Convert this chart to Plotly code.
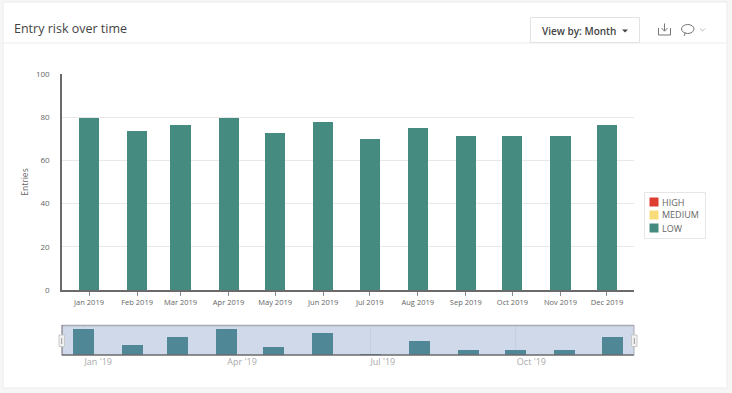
import plotly.graph_objects as go

W, H = 732, 393
FONT = "Open Sans"

months = ["2019-%02d-01" % m for m in range(1, 13)]
month_labels = ["Jan 2019", "Feb 2019", "Mar 2019", "Apr 2019", "May 2019", "Jun 2019",
                "Jul 2019", "Aug 2019", "Sep 2019", "Oct 2019", "Nov 2019", "Dec 2019"]
low = [79.5, 73.5, 76.5, 79.5, 72.5, 78, 70, 75, 71.5, 71.5, 71.5, 76.5]
medium = [0] * 12
high = [0] * 12
y_ticks = [0, 20, 40, 60, 80, 100]
nav_label_dates = ["2019-01-10", "2019-04-11", "2019-07-09", "2019-10-11"]
nav_labels = ["Jan '19", "Apr '19", "Jul '19", "Oct '19"]
nav_grid_dates = ["2019-01-01", "2019-04-01", "2019-07-01", "2019-10-01"]
legend_names = ["HIGH", "MEDIUM", "LOW"]
legend_colors = ["#de3d32", "#f8dc7a", "#458b80"]

BAR_DAYS_MAIN = 13.0 * 86400000
BAR_DAYS_NAV = 13.3 * 86400000


def fx(px):
    return px / W


def fy(py):
    return 1 - py / H


def P(*pts):
    out = []
    for cmd, x, y in pts:
        out.append("%s%.5f,%.5f" % (cmd, fx(x), fy(y)))
    return " ".join(out)


def rect(x0, y0, x1, y1, fill="rgba(0,0,0,0)", line="rgba(0,0,0,0)", width=1):
    return dict(type="rect", xref="paper", yref="paper", x0=fx(x0), x1=fx(x1), y0=fy(y0), y1=fy(y1),
                fillcolor=fill, line=dict(color=line, width=width), layer="below")


def hline(x0, x1, y, color, width=1, layer="below"):
    return dict(type="line", xref="paper", yref="paper", x0=fx(x0), x1=fx(x1), y0=fy(y), y1=fy(y),
                line=dict(color=color, width=width), layer=layer)


def path(d, color="#777777", width=1, fill="rgba(0,0,0,0)"):
    return dict(type="path", xref="paper", yref="paper", path=d, fillcolor=fill,
                line=dict(color=color, width=width), layer="above")


fig = go.Figure()
for name, vals, col in zip(legend_names, [high, medium, low], legend_colors):
    fig.add_trace(go.Bar(x=months, y=vals, name=name, marker=dict(color=col, line=dict(width=0)),
                         width=BAR_DAYS_MAIN, xaxis="x", yaxis="y", showlegend=False))
fig.add_trace(go.Bar(x=months, y=low, name="navigator", marker=dict(color="#4f8796", line=dict(width=0)),
                     width=BAR_DAYS_NAV, xaxis="x2", yaxis="y2", showlegend=False))

shapes = [
    rect(3, 2, 727, 388, fill="#ffffff", line="#ececec"),
    hline(3, 727, 43, "#ececec"),
    rect(62, 325.5, 634, 355, fill="#d0d9ea"),
    hline(62, 634, 325.5, "#a9abb0", 1.5, "above"),
    hline(62, 634, 355, "#6a6a6a", 1.5, "above"),
    dict(type="line", xref="paper", yref="paper", x0=fx(62), x1=fx(62), y0=fy(325), y1=fy(355.5),
         line=dict(color="#6a6a6a", width=1), layer="above"),
    dict(type="line", xref="paper", yref="paper", x0=fx(634), x1=fx(634), y0=fy(325), y1=fy(355.5),
         line=dict(color="#a9abb0", width=1), layer="above"),
    # navigator handles
    dict(type="rect", xref="paper", yref="paper", x0=fx(59), x1=fx(64.5), y0=fy(335), y1=fy(346.5),
         fillcolor="#f2f2f2", line=dict(color="#c8c8c8", width=1), layer="above"),
    dict(type="line", xref="paper", yref="paper", x0=fx(61.7), x1=fx(61.7), y0=fy(338), y1=fy(344),
         line=dict(color="#999999", width=1), layer="above"),
    dict(type="rect", xref="paper", yref="paper", x0=fx(631.5), x1=fx(637), y0=fy(335), y1=fy(346.5),
         fillcolor="#f2f2f2", line=dict(color="#c8c8c8", width=1), layer="above"),
    dict(type="line", xref="paper", yref="paper", x0=fx(634.3), x1=fx(634.3), y0=fy(338), y1=fy(344),
         line=dict(color="#999999", width=1), layer="above"),
    # button
    rect(530.5, 17.5, 639.5, 42.5, fill="#ffffff", line="#e3e3e3"),
    path(P(("M", 622, 29.5), ("L", 628, 29.5), ("L", 625, 32.5)) + " Z", color="#444444", width=0, fill="#444444"),
    # download icon
    path(P(("M", 658.5, 28), ("L", 658.5, 35), ("L", 670.5, 35), ("L", 670.5, 28))),
    path(P(("M", 664.5, 23.5), ("L", 664.5, 31))),
    path(P(("M", 661.5, 28), ("L", 664.5, 31.2), ("L", 667.5, 28))),
    # comment icon
    path(P(("M", 684, 36), ("L", 685.5, 32.5)), color="#777777"),
    dict(type="circle", xref="paper", yref="paper", x0=fx(681.5), x1=fx(694), y0=fy(24.5), y1=fy(33.5),
         fillcolor="rgba(0,0,0,0)", line=dict(color="#777777", width=1), layer="above"),
    # chevron
    path(P(("M", 700, 28.5), ("L", 702.5, 31), ("L", 705, 28.5)), color="#bbbbbb"),
    # legend box
    rect(644.5, 192.5, 705.5, 238.5, fill="#ffffff", line="#e6e6e6"),
]

annotations = [
    dict(text="Entry risk over time", xref="paper", yref="paper", x=fx(12), y=fy(29), xanchor="left",
         yanchor="middle", showarrow=False, font=dict(family=FONT, size=12.5, color="#444444")),
    dict(text="View by: Month", xref="paper", yref="paper", x=fx(539.5), y=fy(30.5), xanchor="left",
         yanchor="middle", showarrow=False, font=dict(family=FONT, size=10, color="#444444", weight=600)),
]
for i, (name, col) in enumerate(zip(legend_names, legend_colors)):
    yc = 202 + 13 * i
    shapes.append(rect(649.5, yc - 4.5, 658.5, yc + 4.5, fill=col))
    annotations.append(dict(text=name, xref="paper", yref="paper", x=fx(659.5), y=fy(yc), xanchor="left",
                            yanchor="middle", showarrow=False,
                            font=dict(family=FONT, size=9, color="#666666")))

fig.update_layout(
    width=W, height=H, autosize=False,
    margin=dict(l=0, r=0, t=0, b=0, pad=0),
    paper_bgcolor="#f6f6f6", plot_bgcolor="rgba(0,0,0,0)",
    barmode="stack", bargap=0, showlegend=False,
    shapes=shapes, annotations=annotations,
    xaxis=dict(domain=[fx(62), fx(634)], anchor="y", type="date", automargin=False,
               range=["2018-12-14 14:00", "2019-12-18 10:00"],
               tickmode="array", tickvals=months, ticktext=month_labels,
               showgrid=False, showline=True, linecolor="#6a6a6a", linewidth=1.5,
               ticks="outside", ticklen=4, tickwidth=1, tickcolor="#8a8a8a", tickangle=0,
               tickfont=dict(family=FONT, size=7.5, color="#666666")),
    yaxis=dict(domain=[fy(290), fy(74)], anchor="x", range=[0, 100], automargin=False,
               tickmode="array", tickvals=y_ticks,
               showgrid=True, gridcolor="#e8e8e8", gridwidth=1, zeroline=False,
               showline=True, linecolor="#6a6a6a", linewidth=1.5,
               ticks="", ticklen=0, ticklabelstandoff=9,
               tickfont=dict(family=FONT, size=8, color="#666666"),
               title=dict(text="Entries", standoff=6, font=dict(family=FONT, size=8.5, color="#666666"))),
    xaxis2=dict(domain=[fx(62), fx(634)], anchor="y2", type="date", automargin=False,
                range=["2018-12-18 03:00", "2019-12-14 21:00"],
                tickmode="array", tickvals=nav_label_dates, ticktext=nav_labels,
                showgrid=False, showline=False, ticks="", tickangle=0,
                tickfont=dict(family=FONT, size=9, color="#aaaaaa"),
                minor=dict(tickmode="array", tickvals=nav_grid_dates, showgrid=True,
                           gridcolor="#c4cfe0", gridwidth=1, ticks="")),
    yaxis2=dict(domain=[fy(355), fy(325.5)], anchor="x2", range=[69.5, 80.55], automargin=False,
                showgrid=False, zeroline=False, showline=False, showticklabels=False, ticks=""),
)

fig.write_html("out.html", config={"displayModeBar": False},
               post_script="document.body.style.margin='0';document.body.style.overflow='hidden';")
